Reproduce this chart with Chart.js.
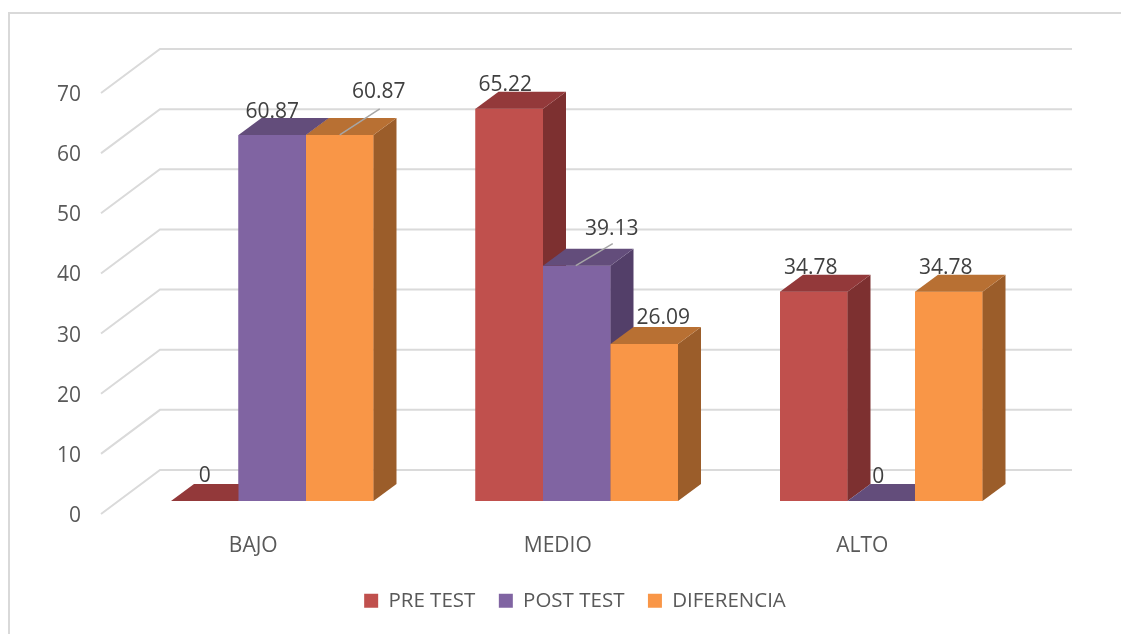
<!DOCTYPE html>
<html>
<head>
<meta charset="utf-8">
<script src="https://cdn.jsdelivr.net/npm/chart.js@4"></script>
<style>
    html, body { margin: 0; background: #fff; overflow: hidden; }
    canvas { display: block; }
</style>
</head>
<body>
<canvas id="barChart" width="1121" height="634"></canvas>
<script>
const categories = ["BAJO", "MEDIO", "ALTO"];
const preTest = [0, 65.22, 34.78];
const postTest = [60.87, 39.13, 0];
const diferencia = [60.87, 26.09, 34.78];
const yTicks = [0, 10, 20, 30, 40, 50, 60, 70];

// front, top and side colour of each series
const faces = [
    { front: "#C0504D", top: "#93393A", side: "#7D3030" },
    { front: "#8064A2", top: "#634D7B", side: "#533F69" },
    { front: "#F99647", top: "#B87033", side: "#9B5D2A" }
];
// where Excel left each data label, relative to the top of its bar
const labelMoves = [
    [[0, -25], [-4, -24], [-3, -24]],
    [[0, -23], [35, -37], [-3, -24]],
    [[39, -43], [19, -26], [-3, -24]]
];
const hasLeader = { "2-0": [[0, 0], [40, -26]], "1-1": [[-1, 0], [36, -22]] };

const DEPTH_X = 23, DEPTH_Y = 17;

function poly(ctx, color, pts) {
    ctx.fillStyle = color;
    ctx.beginPath();
    pts.forEach((p, i) => i ? ctx.lineTo(p[0], p[1]) : ctx.moveTo(p[0], p[1]));
    ctx.closePath();
    ctx.fill();
}

const chartFrame = {
    id: "chartFrame",
    beforeDraw(chart) {
        const ctx = chart.ctx;
        ctx.save();
        ctx.strokeStyle = "#D9D9D9";
        ctx.lineWidth = 2;
        ctx.strokeRect(9, 13, 1130, 640);
        ctx.restore();
    }
};

// the back wall and left wall of the 3D box, from the y scale's ticks
const wallGrid = {
    id: "wallGrid",
    beforeDatasetsDraw(chart) {
        const ctx = chart.ctx, y = chart.scales.y;
        ctx.save();
        ctx.strokeStyle = "#DADADA";
        ctx.lineWidth = 2;
        y.ticks.forEach(t => {
            const py = y.getPixelForValue(t.value);
            ctx.beginPath();
            ctx.moveTo(101, py + 13);
            ctx.lineTo(160, py - 31);
            ctx.lineTo(1072, py - 31);
            ctx.stroke();
        });
        ctx.restore();
    }
};

// bars again from left to right, with top, side and data label
const bars3d = {
    id: "bars3d",
    afterDatasetsDraw(chart) {
        const ctx = chart.ctx;
        ctx.save();
        chart.data.datasets.forEach((ds, d) => {
            chart.getDatasetMeta(d).data.forEach(bar => {
                const l = bar.x - bar.width / 2, r = bar.x + bar.width / 2;
                bar.draw(ctx);
                poly(ctx, faces[d].side, [[r, bar.y], [r + DEPTH_X, bar.y - DEPTH_Y], [r + DEPTH_X, bar.base - DEPTH_Y], [r, bar.base]]);
                poly(ctx, faces[d].top, [[l, bar.y], [l + DEPTH_X, bar.y - DEPTH_Y], [r + DEPTH_X, bar.y - DEPTH_Y], [r, bar.y]]);
            });
        });
        ctx.font = "21px 'Open Sans'";
        ctx.textAlign = "center";
        ctx.textBaseline = "middle";
        chart.data.datasets.forEach((ds, d) => {
            chart.getDatasetMeta(d).data.forEach((bar, i) => {
                const move = labelMoves[d][i], leader = hasLeader[d + "-" + i];
                if (leader) {
                    ctx.strokeStyle = "#A6A6A6";
                    ctx.lineWidth = 1.5;
                    ctx.beginPath();
                    ctx.moveTo(bar.x + leader[0][0], bar.y + leader[0][1]);
                    ctx.lineTo(bar.x + leader[1][0], bar.y + leader[1][1]);
                    ctx.stroke();
                }
                ctx.fillStyle = "#404040";
                ctx.fillText(String(ds.data[i]), bar.x + move[0], bar.y + move[1]);
            });
        });
        ctx.restore();
    }
};

// the legend sits centred under the bars, not under the canvas
const legendPlace = {
    id: "legendPlace",
    afterLayout(chart) {
        chart.legend.right = 1150;
        chart.legend.top -= 13;
    }
};

const seriesNames = ["PRE TEST", "POST TEST", "DIFERENCIA"];
const seriesValues = [preTest, postTest, diferencia];

new Chart(document.getElementById("barChart").getContext("2d"), {
    type: "bar",
    data: {
        labels: categories,
        datasets: seriesNames.map((name, i) => ({
            label: name,
            data: seriesValues[i],
            backgroundColor: faces[i].front,
            borderWidth: 0,
            categoryPercentage: 0.665,
            barPercentage: 1
        }))
    },
    plugins: [chartFrame, wallGrid, bars3d, legendPlace],
    options: {
        responsive: false,
        animation: false,
        layout: { padding: { top: 80, right: 87.5, left: 0, bottom: 0 } },
        plugins: {
            tooltip: { enabled: false },
            legend: {
                position: "bottom",
                labels: {
                    boxWidth: 14,
                    boxHeight: 14,
                    padding: 23.5,
                    color: "#595959",
                    font: { family: "'Open Sans'", size: 20.5 }
                }
            }
        },
        scales: {
            x: {
                grid: { display: false, drawTicks: false },
                border: { display: false },
                afterFit: s => { s.height = 79; },
                ticks: {
                    color: "#595959",
                    font: { family: "'Open Sans'", size: 21 },
                    padding: 32,
                    labelOffset: -19,
                    maxRotation: 0
                }
            },
            y: {
                min: 0,
                max: 70,
                grid: { display: false, drawTicks: false },
                border: { display: false },
                afterFit: s => { s.width = 120; },
                afterBuildTicks: s => { s.ticks = yTicks.map(v => ({ value: v })); },
                ticks: {
                    color: "#595959",
                    font: { family: "'Open Sans'", size: 21 },
                    padding: 39,
                    labelOffset: 15
                }
            }
        }
    }
});
</script>
</body>
</html>
